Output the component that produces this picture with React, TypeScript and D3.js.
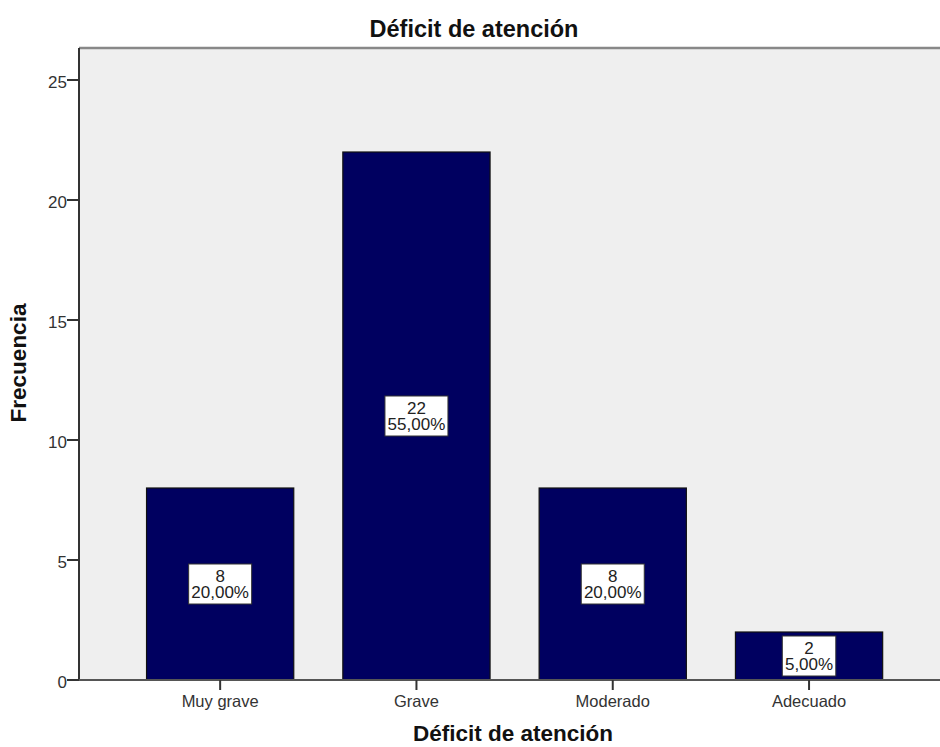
import React from "react";
import * as d3 from "d3";

const categories: string[] = ["Muy grave", "Grave", "Moderado", "Adecuado"];
const counts: number[] = [8, 22, 8, 2];
const percents: string[] = ["20,00%", "55,00%", "20,00%", "5,00%"];
const yTicks: number[] = [0, 5, 10, 15, 20, 25];
const chartTitle = "Déficit de atención";
const xTitle = "Déficit de atención";
const yTitle = "Frecuencia";

const W = 940;
const H = 747;
const plotLeft = 79;
const plotTop = 48;
const plotBottom = 680;
const plotRight = 950;
const FONT = "Arial, 'Liberation Sans', Helvetica, sans-serif";

export default function App() {
  const y = d3.scaleLinear().domain([0, 25]).range([plotBottom, 80]);
  const x = d3
    .scaleBand<string>()
    .domain(categories)
    .range([122, 907.2])
    .paddingInner(0.25)
    .paddingOuter(0.125);
  const bw = x.bandwidth();

  return (
    <div>
      <style>{`body{margin:0;background:#fff}`}</style>
      <svg width={W} height={H} style={{ display: "block" }} fontFamily={FONT}>
        <rect x={0} y={0} width={W} height={H} fill="#fff" />
        {/* title */}
        <text x={474} y={37} textAnchor="middle" fontSize={23.5} fontWeight="bold" fill="#111">
          {chartTitle}
        </text>
        {/* plot background */}
        <rect x={plotLeft} y={plotTop} width={plotRight - plotLeft} height={plotBottom - plotTop} fill="#efefef" />
        <line x1={plotLeft} x2={plotRight} y1={plotTop} y2={plotTop} stroke="#888" strokeWidth={2.5} />
        {/* bars */}
        {categories.map((c, i) => {
          const x0 = x(c)!;
          const yt = y(counts[i]);
          return (
            <rect
              key={c}
              x={x0}
              y={yt}
              width={bw}
              height={plotBottom - yt}
              fill="#000060"
              stroke="#111"
              strokeWidth={1.2}
            />
          );
        })}
        {/* axes */}
        <line x1={plotLeft} x2={plotLeft} y1={plotTop} y2={plotBottom} stroke="#333" strokeWidth={2} />
        <line x1={plotLeft - 1} x2={plotRight} y1={plotBottom} y2={plotBottom} stroke="#555" strokeWidth={2} />
        {yTicks.map((t) => (
          <g key={t}>
            <line x1={plotLeft - 12} x2={plotLeft} y1={y(t)} y2={y(t)} stroke="#333" strokeWidth={2} />
            <text x={plotLeft - 12} y={y(t) + 8} textAnchor="end" fontSize={17} fill="#333">
              {t}
            </text>
          </g>
        ))}
        {categories.map((c) => {
          const cx = x(c)! + bw / 2;
          return (
            <g key={c}>
              <line x1={cx} x2={cx} y1={plotBottom} y2={plotBottom + 10} stroke="#333" strokeWidth={2} />
              <text x={cx} y={707} textAnchor="middle" fontSize={16.5} fill="#333">
                {c}
              </text>
            </g>
          );
        })}
        {/* data labels */}
        {categories.map((c, i) => {
          const cx = x(c)! + bw / 2;
          const cy = (y(counts[i]) + plotBottom) / 2;
          const boxW = percents[i].length * 9.5 + 6;
          const boxH = 40;
          return (
            <g key={"l" + c}>
              <rect x={cx - boxW / 2} y={cy - boxH / 2} width={boxW} height={boxH} fill="#fff" stroke="#333" strokeWidth={1} />
              <text x={cx} y={cy - 2} textAnchor="middle" fontSize={17} fill="#222">
                {counts[i]}
              </text>
              <text x={cx} y={cy + 14} textAnchor="middle" fontSize={17} fill="#222">
                {percents[i]}
              </text>
            </g>
          );
        })}
        {/* axis titles */}
        <text x={513} y={741} textAnchor="middle" fontSize={22.5} fontWeight="bold" fill="#111">
          {xTitle}
        </text>
        <text
          transform={`translate(26,363) rotate(-90)`}
          textAnchor="middle"
          fontSize={22.5}
          fontWeight="bold"
          fill="#111"
        >
          {yTitle}
        </text>
      </svg>
    </div>
  );
}
